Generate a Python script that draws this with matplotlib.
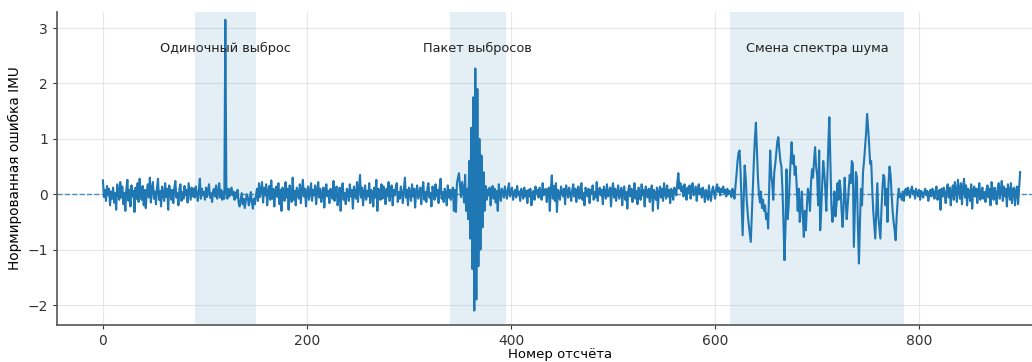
import numpy as np
import matplotlib
matplotlib.use("Agg")
import matplotlib.pyplot as plt

# Нормированная ошибка IMU, по отрезкам сигнала
# отсчёты 0-119: фоновый шум
seg_a = [0.25, -0.05, 0.08, -0.12, 0.15, -0.02, 0.1, -0.2, 0.05, -0.08,
         0.12, -0.15, 0.02, -0.28, 0.18, 0.05, -0.1, 0.22, -0.06, 0.14,
         -0.18, 0.03, -0.3, 0.1, 0.26, -0.12, 0.08, -0.22, 0.16, -0.04,
         0.06, -0.32, 0.12, -0.08, 0.2, -0.14, 0.28, 0.02, -0.1, 0.15,
         -0.2, 0.08, -0.25, 0.04, 0.18, -0.06, 0.3, -0.15, 0.1, 0.22,
         -0.08, 0.05, -0.18, 0.12, 0.28, -0.1, 0.06, -0.22, 0.14, 0.02,
         -0.12, 0.2, -0.05, 0.1, -0.28, 0.16, 0.04, -0.1, 0.08, -0.16,
         0.12, 0.24, -0.06, 0.02, -0.2, 0.1, 0.18, -0.12, 0.04, -0.08,
         0.15, -0.02, 0.08, -0.15, 0.2, 0.05, -0.1, 0.12, -0.04, 0.1,
         -0.06, 0.14, 0.02, -0.12, 0.06, 0.28, -0.08, 0.1, -0.02, 0.04,
         -0.1, 0.12, -0.05, 0.08, 0.18, -0.06, 0.02, -0.14, 0.06, 0.1,
         -0.04, 0.16, -0.08, 0.02, 0.2, -0.06, 0.08, -0.1, 0.04, -0.08]
# отсчёт 120: одиночный выброс
spike = [3.15]
# отсчёты 121-354
seg_b = [0.02, -0.08, 0.1, -0.04, 0.06, 0.12, -0.02, 0.05, -0.1, 0.03,
         -0.06, 0.08, -0.15, -0.22, -0.1, 0.02, -0.18, -0.08, -0.25, -0.12,
         0.0, -0.05, -0.2, -0.1, 0.04, -0.15, -0.26, -0.08, -0.18, -0.02,
         0.1, -0.12, 0.2, -0.05, 0.08, 0.22, -0.15, 0.12, -0.02, 0.18,
         -0.2, 0.05, 0.15, -0.1, 0.25, -0.08, 0.1, -0.22, 0.06, 0.14,
         -0.05, 0.2, -0.18, 0.08, -0.3, 0.12, 0.02, -0.12, 0.22, -0.06,
         0.1, -0.28, 0.16, 0.04, -0.14, 0.3, -0.1, 0.06, -0.2, 0.12,
         0.02, -0.08, 0.18, -0.16, 0.08, 0.26, -0.04, 0.1, -0.22, 0.05,
         0.14, -0.1, 0.04, 0.2, -0.12, 0.08, -0.02, 0.16, -0.18, 0.06,
         0.22, -0.06, 0.1, -0.14, 0.02, 0.12, -0.24, 0.08, 0.18, -0.04,
         0.06, -0.16, 0.1, 0.02, -0.08, 0.24, -0.12, 0.04, 0.14, -0.2,
         -0.06, 0.12, -0.3, 0.08, 0.2, -0.1, 0.02, -0.18, 0.1, 0.06,
         -0.12, 0.18, -0.04, 0.08, -0.26, 0.14, 0.02, -0.08, 0.22, -0.14,
         0.1, 0.35, -0.06, 0.12, -0.2, 0.04, 0.16, -0.1, 0.06, -0.04,
         0.2, -0.16, 0.08, 0.02, -0.22, 0.12, -0.06, 0.26, -0.3, 0.1,
         0.04, -0.1, 0.18, -0.08, 0.14, 0.02, -0.18, 0.1, -0.04, 0.22,
         -0.12, 0.06, 0.16, -0.2, 0.08, -0.02, 0.12, 0.2, -0.14, 0.04,
         -0.08, 0.14, 0.02, -0.16, 0.1, 0.3, -0.06, 0.08, -0.2, 0.12,
         0.04, -0.12, 0.18, -0.04, 0.1, -0.24, 0.06, 0.16, -0.08, 0.02,
         0.12, -0.18, 0.08, 0.22, -0.1, 0.04, -0.14, 0.1, 0.2, -0.06,
         0.02, -0.22, 0.14, 0.06, -0.1, 0.18, -0.04, 0.08, -0.16, 0.12,
         0.28, -0.08, 0.04, -0.14, 0.1, 0.02, -0.2, 0.16, -0.06, 0.08,
         -0.1, 0.05, 0.12, -0.3, 0.08, -0.32, 0.2, 0.3, 0.38, 0.15,
         -0.05, 0.22, 0.1, -0.15]
# отсчёты 355-375: пакет выбросов
burst = [0.35, -0.3, 0.1, -0.45, 0.6, -0.8, 1.2, -1.35, 1.75, -2.1,
         2.27, -1.9, 1.9, -1.3, 1.0, -1.0, 0.7, -0.6, 0.4, -0.3, 0.15]
# отсчёты 376-614
seg_c = [-0.1, 0.08, -0.02, 0.12, -0.2, 0.04, 0.15, -0.08, 0.1, -0.15,
         0.06, -0.3, 0.18, 0.02, -0.12, 0.1, 0.05, -0.06, 0.14, 0.02,
         -0.08, 0.1, 0.2, -0.04, 0.06, 0.12, -0.1, 0.02, 0.08, -0.06,
         0.15, -0.02, 0.05, -0.12, 0.1, 0.03, -0.08, 0.12, -0.04, 0.06,
         -0.16, 0.08, -0.04, 0.1, -0.2, 0.02, 0.06, -0.1, 0.14, 0.0,
         0.08, -0.06, 0.12, 0.04, -0.1, 0.2, -0.02, 0.06, 0.1, -0.14,
         0.05, 0.12, -0.3, 0.1, 0.34, -0.08, 0.15, -0.12, 0.2, -0.32,
         0.08, 0.02, -0.1, 0.14, 0.06, -0.04, 0.1, -0.18, 0.16, 0.04,
         -0.06, 0.12, 0.02, -0.12, 0.08, 0.18, -0.04, 0.1, -0.14, 0.06,
         0.14, -0.08, 0.04, 0.2, -0.1, 0.02, -0.2, 0.12, 0.06, -0.04,
         0.1, -0.16, 0.08, 0.02, 0.16, -0.1, 0.04, -0.06, 0.22, -0.12,
         0.06, 0.12, -0.02, 0.08, -0.18, 0.14, 0.04, -0.08, 0.18, -0.04,
         0.02, 0.12, -0.22, 0.08, 0.2, -0.06, 0.1, -0.12, 0.04, 0.16,
         -0.08, 0.02, 0.12, -0.2, 0.06, 0.14, -0.1, 0.04, -0.26, 0.08,
         0.16, -0.04, 0.1, -0.14, 0.02, 0.2, -0.08, 0.06, -0.18, 0.12,
         0.04, -0.1, 0.18, -0.02, 0.08, -0.22, 0.14, 0.02, -0.06, 0.1,
         -0.14, 0.06, 0.16, -0.3, 0.08, 0.02, -0.1, 0.12, -0.26, 0.04,
         0.14, -0.06, 0.1, -0.12, 0.2, 0.02, -0.08, 0.16, -0.04, 0.08,
         -0.16, 0.1, 0.04, -0.1, 0.12, 0.06, -0.02, 0.22, 0.38, 0.1,
         0.2, 0.05, 0.14, -0.04, 0.18, 0.08, -0.1, 0.12, 0.02, 0.16,
         -0.08, 0.1, 0.2, -0.02, 0.06, 0.14, -0.12, 0.08, 0.18, 0.0,
         0.1, -0.06, 0.12, 0.04, -0.14, 0.08, 0.02, -0.1, 0.16, -0.04,
         -0.12, 0.06, 0.14, 0.02, -0.08, 0.1, 0.18, 0.04, 0.12, -0.02,
         0.1, 0.04, 0.14, 0.02, 0.08, -0.04, 0.1, 0.0, 0.06]
# отсчёты 615-784: смена спектра шума
seg_d = [0.05, -0.05, 0.1, 0.02, -0.08, 0.15, 0.35, 0.6, 0.75, 0.79,
         0.4, -0.2, -0.74, -0.1, 0.52, 0.3, -0.1, -0.35, -0.55, -0.7,
         -0.86, -0.4, 0.1, 0.6, 1.0, 1.29, 0.8, 0.3, 0.0, -0.15,
         0.05, -0.25, -0.1, -0.3, -0.2, -0.45, -0.35, -0.62, 0.1, 0.79,
         0.35, 0.2, -0.1, 0.4, 0.55, 0.75, 0.95, 1.03, 0.8, 0.6,
         0.5, 0.1, -0.5, -1.19, -0.6, 0.45, -0.45, -0.25, 0.2, 0.6,
         0.94, 0.55, 0.7, 0.35, 0.5, 0.15, -0.3, 0.1, -0.5, -0.2,
         0.05, -0.4, -0.77, -0.3, -0.65, -0.2, 0.1, 0.0, -0.3, 0.2,
         0.45, 0.3, 0.6, 0.85, 0.5, 0.35, -0.2, 0.79, -0.65, -0.3,
         0.2, 0.6, 0.4, 0.1, -0.3, 0.3, 0.9, 1.39, 0.6, -0.2,
         -0.5, -0.3, 0.05, -0.4, -0.2, 0.2, -0.1, 0.25, 0.1, -0.3,
         -0.59, -0.2, 0.3, -0.1, -0.45, -0.2, 0.1, 0.35, 0.2, 0.6,
         0.55, -0.95, -0.3, 0.4, 0.3, -0.6, -1.25, -0.5, 0.1, -0.2,
         0.4, 0.6, 0.85, 1.1, 1.45, 1.2, 0.9, 0.55, 0.6, 0.1,
         -0.3, -0.55, -0.8, -0.3, 0.2, -0.4, -0.6, -0.8, -0.3, 0.1,
         0.35, 0.3, -0.2, 0.1, -0.5, 0.2, 0.5, 0.35, 0.0, -0.3,
         -0.5, -0.65, -0.83, -0.4, -0.1, 0.1, -0.05, 0.0, -0.1, 0.05]
# отсчёты 785-899
seg_e = [-0.12, 0.06, 0.1, -0.02, 0.12, 0.04, -0.06, 0.08, 0.14, 0.0,
         0.06, -0.08, 0.1, 0.02, -0.04, 0.08, -0.1, 0.06, 0.02, -0.06,
         0.04, 0.1, -0.02, 0.06, -0.12, 0.02, 0.08, -0.04, 0.1, 0.04,
         -0.08, 0.06, 0.14, -0.1, 0.02, 0.08, -0.28, 0.1, -0.04, 0.12,
         0.02, -0.16, 0.08, 0.18, -0.06, 0.12, -0.2, 0.04, 0.16, -0.1,
         0.22, 0.06, -0.14, 0.26, 0.1, -0.08, 0.2, -0.18, 0.12, 0.28,
         -0.06, 0.16, -0.2, 0.1, 0.04, -0.12, 0.18, -0.26, 0.08, 0.14,
         -0.04, 0.1, -0.16, 0.06, 0.2, -0.1, 0.02, 0.12, -0.08, 0.04,
         -0.14, 0.08, 0.16, -0.06, 0.1, -0.2, 0.22, 0.04, -0.1, 0.12,
         0.02, -0.18, 0.1, 0.2, -0.08, 0.06, 0.24, -0.12, 0.14, -0.04,
         0.1, -0.22, 0.18, 0.06, -0.1, 0.2, -0.16, 0.08, 0.12, -0.2,
         0.06, 0.14, -0.18, 0.1, 0.4]

# области аномалий и подписи
regions = [(90, 150), (340, 395), (615, 785)]
labels = ["Одиночный выброс", "Пакет выбросов", "Смена спектра шума"]

err = np.array(seg_a + spike + seg_b + burst + seg_c + seg_d + seg_e)
t = np.arange(len(err))

fig = plt.figure(figsize=(10.32, 3.62), dpi=100)
ax = fig.add_axes([57 / 1032, 37 / 362, 1006 / 1032, 313 / 362])

for (a, b), lab in zip(regions, labels):
    ax.axvspan(a, b, color="#1f77b4", alpha=0.12, lw=0)
    ax.text((a + b) / 2, 2.63, lab, ha="center", va="center", fontsize=9.3, color="#222222")

ax.axhline(0, color="#1f77b4", ls="--", lw=1, alpha=0.8)
ax.plot(t, err, color="#1f77b4", lw=1.5)

ax.set_xlim(-45, 941)
ax.set_ylim(-2.36, 3.29)
ax.set_xticks([0, 200, 400, 600, 800])
ax.set_yticks([-2, -1, 0, 1, 2, 3])
ax.grid(True, color="#dddddd", lw=0.8, alpha=0.7)
ax.set_axisbelow(True)
for s in ["top", "right"]:
    ax.spines[s].set_visible(False)
for s in ["left", "bottom"]:
    ax.spines[s].set_color("#555555")
    ax.spines[s].set_linewidth(1.2)
ax.tick_params(labelsize=10, colors="#333333", length=3)
ax.set_xlabel("Номер отсчёта", fontsize=9.5, labelpad=0)
ax.set_ylabel("Нормированная ошибка IMU", fontsize=9.8)

fig.savefig("out.png", dpi=100)
